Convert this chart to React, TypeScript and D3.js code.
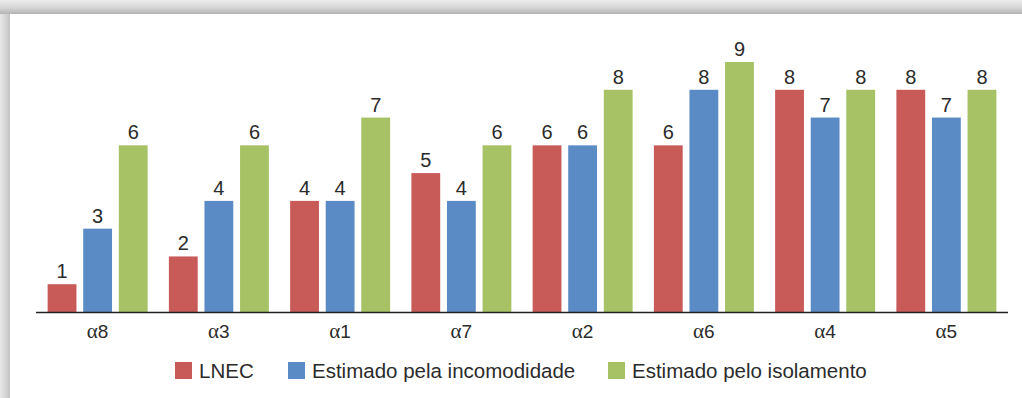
import React from "react";
import * as d3 from "d3";

const categories = ["α8", "α3", "α1", "α7", "α2", "α6", "α4", "α5"];
const lnec = [1, 2, 4, 5, 6, 6, 8, 8];
const incomodidade = [3, 4, 4, 4, 6, 8, 7, 7];
const isolamento = [6, 6, 7, 6, 8, 9, 8, 8];
const seriesNames = ["LNEC", "Estimado pela incomodidade", "Estimado pelo isolamento"];
const seriesColors = ["#c85a58", "#5b8bc5", "#a6c264"];

const W = 1022;
const H = 398;
const FONT = "'Liberation Sans', Arial, Helvetica, sans-serif";
const SERIF = "'Liberation Serif', 'Times New Roman', serif";

export default function App() {
  const seriesValues = [lnec, incomodidade, isolamento];
  const x0 = d3.scaleBand<string>().domain(categories).range([37, 1007]).paddingInner(0).paddingOuter(0);
  const groupW = 100;
  const x1 = d3.scaleBand<number>().domain([0, 1, 2]).range([0, groupW]).paddingInner(0.19).paddingOuter(0);
  const y = d3.scaleLinear().domain([0, 9]).range([312, 62]);

  const legendX = [175, 288, 608];

  return (
    <svg width={W} height={H} style={{ position: "absolute", left: 0, top: 0 }}>
      <defs>
        <linearGradient id="topShade" x1="0" y1="0" x2="0" y2="1">
          <stop offset="0" stopColor="#ececec" />
          <stop offset="0.6" stopColor="#d2d2d2" />
          <stop offset="1" stopColor="#b4b4b4" />
        </linearGradient>
        <linearGradient id="leftShade" x1="0" y1="0" x2="1" y2="0">
          <stop offset="0" stopColor="#e8e8e8" />
          <stop offset="0.7" stopColor="#cfcfcf" />
          <stop offset="1" stopColor="#c2c2c2" />
        </linearGradient>
      </defs>
      <rect x={0} y={0} width={W} height={H} fill="#ffffff" />
      <rect x={0} y={0} width={10} height={H} fill="url(#leftShade)" />
      <rect x={0} y={0} width={W} height={14} fill="url(#topShade)" />

      {categories.map((c, i) => {
        const gx = (x0(c) as number) + (x0.bandwidth() - groupW) / 2;
        return (
          <g key={c} transform={`translate(${gx},0)`}>
            {seriesValues.map((vals, s) => {
              const v = vals[i];
              const bx = x1(s) as number;
              return (
                <g key={s}>
                  <rect x={bx} y={y(v)} width={x1.bandwidth()} height={y(0) - y(v)} fill={seriesColors[s]} />
                  <text
                    x={bx + x1.bandwidth() / 2}
                    y={y(v) - 6}
                    textAnchor="middle"
                    fontFamily={FONT}
                    fontSize={20}
                    fill="#2b2b2b"
                  >
                    {v}
                  </text>
                </g>
              );
            })}
          </g>
        );
      })}

      <line x1={36} x2={1008} y1={312.5} y2={312.5} stroke="#222" strokeWidth={1.3} />

      {categories.map((c) => (
        <text
          key={c}
          x={(x0(c) as number) + x0.bandwidth() / 2}
          y={338}
          textAnchor="middle"
          fontFamily={FONT}
          fontSize={19}
          fill="#2b2b2b"
        >
          <tspan fontFamily={SERIF} fontSize={21}>{c.slice(0, 1)}</tspan>
          <tspan>{c.slice(1)}</tspan>
        </text>
      ))}

      {seriesNames.map((n, s) => (
        <g key={n} transform={`translate(${legendX[s]},362)`}>
          <rect x={0} y={0} width={17} height={17} fill={seriesColors[s]} />
          <text x={24} y={16} fontFamily={FONT} fontSize={20.5} fill="#2b2b2b">
            {n}
          </text>
        </g>
      ))}
    </svg>
  );
}
